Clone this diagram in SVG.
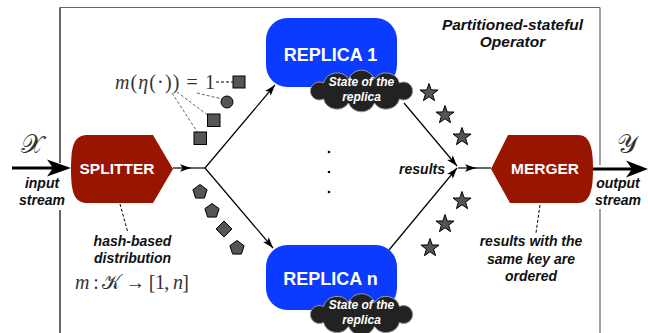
<svg xmlns="http://www.w3.org/2000/svg" width="648" height="333" viewBox="0 0 648 333">
<style>
.lbl{font-family:"Liberation Sans",Arial,sans-serif;font-weight:bold;font-style:italic;font-size:14px;fill:#111;text-anchor:middle}
.nodeT{font-family:"Liberation Sans",Arial,sans-serif;font-weight:bold;fill:#fff;text-anchor:middle}
.cloudT{font-family:"Liberation Sans",Arial,sans-serif;font-weight:bold;font-style:italic;font-size:12px;fill:#fff;text-anchor:middle}
.math{font-family:"Liberation Serif","DejaVu Serif",serif;fill:#333}
.conn{stroke:#000;stroke-width:1.2;fill:none}
.shape{fill:#555;stroke:#000;stroke-width:1}
.dash{stroke:#666;stroke-width:1;stroke-dasharray:3,2;fill:none}
.dashk{stroke:#000;stroke-width:1;stroke-dasharray:3,2;fill:none}
.red{fill:#981600}
.blue{fill:#0a3bff}
.cloud{fill:#222;stroke:#999;stroke-width:1}
</style>
<defs>
<marker id="ah" markerWidth="12" markerHeight="10" refX="11" refY="5" orient="auto" markerUnits="userSpaceOnUse">
<path d="M0,1.3 L11,5 L0,8.7 L2.5,5 Z" fill="#000"/>
</marker>
<path id="cloudP" d="M-38,-8 A14,14 0 0 1 -13,-12 A14,14 0 0 1 13,-12 A14,14 0 0 1 38,-8 A9,9 0 1 1 38,8 A14,14 0 0 1 13,12 A14,14 0 0 1 -13,12 A14,14 0 0 1 -38,8 A9,9 0 1 1 -38,-8 Z"/>
<path id="star" d="M0,-9.5 L2.23,-3.07 L9.03,-2.94 L3.61,1.17 L5.58,7.69 L0,3.8 L-5.58,7.69 L-3.61,1.17 L-9.03,-2.94 L-2.23,-3.07 Z"/>
<path id="pent" d="M0,-7.5 L7.13,-2.32 L4.41,6.07 L-4.41,6.07 L-7.13,-2.32 Z"/>
</defs>

<g id="frame" fill="none">
<path d="M60,7.5 H600" stroke="#666" stroke-width="1.2"/>
<path d="M60,7.5 V163 M60,210 V333" stroke="#000" stroke-width="1.2"/>
<path d="M600,7.5 V165 M600,209 V333" stroke="#666" stroke-width="1.2"/>
<text class="lbl" x="512.5" y="30" style="font-size:15.5px">Partitioned-stateful</text>
<text class="lbl" x="512.5" y="47" style="font-size:15.5px">Operator</text>
</g>

<g id="connectors">
<line x1="12" y1="168" x2="56" y2="168" stroke="#000" stroke-width="2.8"/>
<path d="M47,159.5 L71,168 L47,176.5 L53,168 Z" fill="#000"/>
<line x1="593" y1="169" x2="636" y2="169" stroke="#000" stroke-width="2.8"/>
<path d="M626,160.5 L648,169 L626,177.5 L632,169 Z" fill="#000"/>
<line class="conn" x1="173" y1="168" x2="191" y2="168" marker-end="url(#ah)"/>
<line class="conn" x1="190" y1="168" x2="205" y2="168"/>
<line class="conn" x1="205" y1="168" x2="275" y2="85" marker-end="url(#ah)"/>
<line class="conn" x1="205" y1="168" x2="273" y2="248" marker-end="url(#ah)"/>
<line class="conn" x1="404" y1="103" x2="457" y2="166" marker-end="url(#ah)"/>
<line class="conn" x1="389" y1="250" x2="457" y2="168" marker-end="url(#ah)"/>
<line class="conn" x1="458" y1="168" x2="476" y2="168" marker-end="url(#ah)"/>
<line class="conn" x1="475" y1="168" x2="491" y2="168"/>
<path class="dashk" d="M120,204 L128,233"/>
<path class="dashk" d="M540,205 L536,233"/>
</g>

<g id="input">
<text class="math" x="32" y="153" text-anchor="middle" style="font-size:26px">𝒳</text>
<text class="lbl" x="42" y="188">input</text>
<text class="lbl" x="42" y="205">stream</text>
</g>

<g id="output">
<text class="math" x="627" y="153" text-anchor="middle" style="font-size:26px">𝒴</text>
<text class="lbl" x="618" y="188">output</text>
<text class="lbl" x="618" y="205">stream</text>
</g>

<g id="splitter">
<path class="red" d="M88,135 L153,135 L173,169 L153,203 L88,203 C74,203 71,193 71,169 C71,145 74,135 88,135 Z"/>
<text class="nodeT" x="117" y="174" style="font-size:15.5px">SPLITTER</text>
<text class="lbl" x="132.5" y="246">hash-based</text>
<text class="lbl" x="132.5" y="263">distribution</text>
<text class="math" x="132" y="289" text-anchor="middle" textLength="114" lengthAdjust="spacing" style="font-size:20px"><tspan font-style="italic">m</tspan> : 𝒦 → [1, <tspan font-style="italic">n</tspan>]</text>
</g>

<g id="merger">
<path class="red" d="M508,135 L578,135 C590,135 593,148 593,169 C593,190 590,203 578,203 L510,203 L491,169 Z"/>
<text class="nodeT" x="545" y="174" style="font-size:15.5px">MERGER</text>
<text class="lbl" x="531" y="246">results with the</text>
<text class="lbl" x="531" y="263.5">same key are</text>
<text class="lbl" x="531" y="281">ordered</text>
</g>

<g id="replica1">
<rect class="blue" x="266" y="18" width="131" height="69" rx="21" ry="22"/>
<text class="nodeT" x="330.5" y="61" style="font-size:18px">REPLICA 1</text>
<use href="#cloudP" class="cloud" x="361.5" y="91"/>
<text class="cloudT" x="361.5" y="85.5">State of the</text>
<text class="cloudT" x="361.5" y="100.5">replica</text>
</g>

<g id="replican">
<rect class="blue" x="266" y="245" width="131" height="65" rx="21" ry="22"/>
<text class="nodeT" x="330.5" y="285" style="font-size:18px">REPLICA n</text>
<use href="#cloudP" class="cloud" x="361.5" y="314.5"/>
<text class="cloudT" x="361.5" y="309">State of the</text>
<text class="cloudT" x="361.5" y="324">replica</text>
</g>

<g id="keys">
<text class="math" x="115" y="89" textLength="100" lengthAdjust="spacing" style="font-size:20px"><tspan font-style="italic">m</tspan>(<tspan font-style="italic">η</tspan>(·)) = 1</text>
<path class="dashk" d="M216,82 L233,82" stroke="#333"/>
<path class="dash" d="M197,93 L222,99 M177,92 L209,116 M172,93 L198,133"/>
<rect class="shape" x="233" y="76" width="12" height="12"/>
<circle class="shape" cx="227" cy="102" r="6"/>
<rect class="shape" x="207.5" y="114" width="12.5" height="12.5"/>
<rect class="shape" x="194" y="132" width="12.5" height="12.5"/>
<use href="#pent" class="shape" x="200" y="192"/>
<use href="#pent" class="shape" x="212" y="211"/>
<path class="shape" d="M224,221 L232,229 L224,237 L216,229 Z"/>
<use href="#pent" class="shape" x="237" y="248"/>
</g>

<g id="results">
<use href="#star" class="shape" x="429" y="93"/>
<use href="#star" class="shape" x="445" y="115"/>
<use href="#star" class="shape" x="462" y="137"/>
<use href="#star" class="shape" x="462" y="201"/>
<use href="#star" class="shape" x="445" y="224"/>
<use href="#star" class="shape" x="430" y="248"/>
<text class="lbl" x="445" y="174" style="text-anchor:end">results</text>
<circle cx="329" cy="152" r="1.3" fill="#000"/>
<circle cx="329" cy="172" r="1.3" fill="#000"/>
<circle cx="329" cy="192" r="1.3" fill="#000"/>
</g>
</svg>
